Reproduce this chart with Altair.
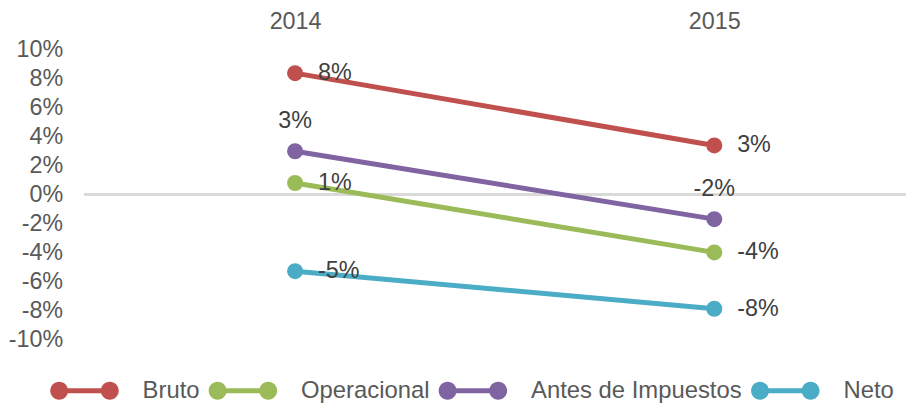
import altair as alt
import pandas as pd

years = ["2014", "2015"]
series = ["Bruto", "Operacional", "Antes de Impuestos", "Neto"]
bruto = [0.084, 0.034]
operacional = [0.008, -0.040]
antes = [0.030, -0.017]
neto = [-0.053, -0.079]
colors = ["#C0504D", "#9BBB59", "#8064A2", "#4BACC6"]
y_ticks = [-0.10, -0.08, -0.06, -0.04, -0.02, 0.0, 0.02, 0.04, 0.06, 0.08, 0.10]

rows = []
for name, vals in zip(series, [bruto, operacional, antes, neto]):
    for yr, v in zip(years, vals):
        rows.append({"Año": yr, "Serie": name, "Valor": v})
df = pd.DataFrame(rows)

FONT = "Liberation Sans"
FS = 23.5
LFS = 24
legend_path = ("M-3.83,0 A1,1 0 1,1 -1.83,0 A1,1 0 1,1 -3.83,0 Z "
               "M1.83,0 A1,1 0 1,1 3.83,0 A1,1 0 1,1 1.83,0 Z "
               "M-2.83,-0.28 L2.83,-0.28 L2.83,0.28 L-2.83,0.28 Z")

y_axis = alt.Axis(values=y_ticks, title=None, domain=False,
                  labelExpr="replace(format(datum.value, '.0%'), '\u2212', '-')",
                  labelOverlap=False,
                  ticks=False, tickSize=0, labelPadding=22, labelFontSize=FS,
                  labelFont=FONT, labelColor="#595959", grid=False)
y_scale = alt.Scale(domain=[-0.10, 0.10], nice=False)

x_enc = alt.X("Año:N", scale=alt.Scale(type="point", range=[212, 634], padding=0),
              axis=alt.Axis(orient="top", title=None, labelAngle=0, domain=False,
                            ticks=False, tickSize=0, labelPadding=17, labelFontSize=FS,
                            labelFont=FONT, labelColor="#595959", grid=False))
y_enc = alt.Y("Valor:Q", scale=y_scale, axis=y_axis)
color_enc = alt.Color("Serie:N", sort=series,
                      scale=alt.Scale(domain=series, range=colors),
                      legend=alt.Legend(title=None, orient="none", direction="horizontal",
                                        legendX=-12, legendY=331,
                                        symbolType=legend_path, symbolSize=324,
                                        symbolStrokeWidth=0, symbolOpacity=1,
                                        labelFontSize=LFS, labelFont=FONT, labelLimit=0,
                                        labelColor="#595959", labelOffset=46.5,
                                        columnPadding=8.5))

base = alt.Chart(df).transform_calculate(
    lab="replace(format(datum.Valor, '.0%'), '\u2212', '-')"
).encode(x=x_enc, y=y_enc)

zero = alt.Chart(df).mark_rule(color="#D9D9D9", strokeWidth=2).encode(
    y=alt.YDatum(0, scale=y_scale, axis=y_axis))

lines = base.mark_line(strokeWidth=5).encode(color=color_enc)
points = base.mark_point(filled=True, size=260, opacity=1, shape="circle").encode(color=color_enc)

right_labels = base.transform_filter(alt.datum.Serie != "Antes de Impuestos").mark_text(
    align="left", baseline="middle", dx=23, fontSize=FS, font=FONT, color="#404040"
).encode(text="lab:N")

top_labels = base.transform_filter(alt.datum.Serie == "Antes de Impuestos").mark_text(
    align="center", baseline="middle", dy=-30, fontSize=FS, font=FONT, color="#404040"
).encode(text="lab:N")

chart = alt.layer(zero, lines, points, right_labels, top_labels).properties(
    width=827, height=291, padding=0, background="white"
).configure_view(stroke=None, strokeWidth=0)

chart.save("out.html", embed_options={"renderer": "svg", "actions": False})
